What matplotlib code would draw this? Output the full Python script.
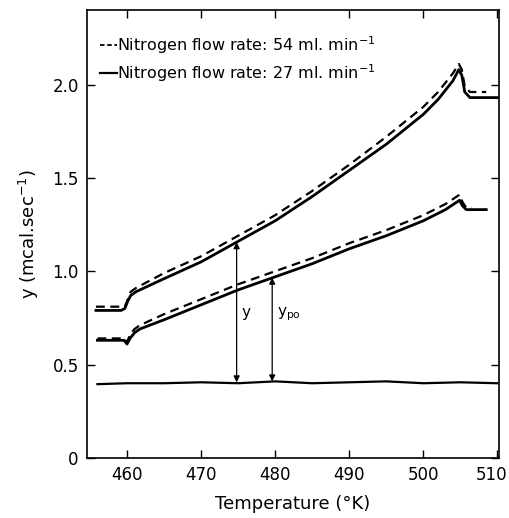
import matplotlib.pyplot as plt
import matplotlib.transforms as mtransforms

# upper pair of traces (sample + reference)
t_up = [455.8, 459.2, 459.7, 460.1, 460.5, 461.2, 465, 470, 475, 480, 485, 490, 495, 500, 502, 504.0, 504.8, 505.2, 505.6, 506.3, 510]
y_up_27 = [0.79, 0.79, 0.80, 0.84, 0.87, 0.89, 0.96, 1.05, 1.16, 1.27, 1.40, 1.54, 1.68, 1.84, 1.92, 2.02, 2.08, 2.05, 1.96, 1.93, 1.93]
t_up_54 = [455.8, 459.2, 459.7, 460.1, 460.5, 461.2, 465, 470, 475, 480, 485, 490, 495, 500, 502, 504.0, 504.8, 505.2, 505.6, 506.3, 508.5]
y_up_54 = [0.81, 0.81, 0.81, 0.85, 0.89, 0.91, 0.99, 1.08, 1.19, 1.30, 1.43, 1.57, 1.72, 1.88, 1.96, 2.06, 2.11, 2.08, 1.99, 1.96, 1.96]

# lower pair of traces
t_lo = [456.0, 459.0, 459.6, 460.0, 460.4, 461.0, 461.7, 465, 470, 475, 480, 485, 490, 495, 500, 503, 504.9, 505.3, 505.8, 506.5, 508.5]
y_lo_27 = [0.63, 0.63, 0.63, 0.61, 0.64, 0.67, 0.69, 0.74, 0.82, 0.90, 0.97, 1.04, 1.12, 1.19, 1.27, 1.33, 1.38, 1.35, 1.33, 1.33, 1.33]
y_lo_54 = [0.64, 0.64, 0.64, 0.62, 0.66, 0.69, 0.71, 0.77, 0.85, 0.93, 1.00, 1.07, 1.15, 1.22, 1.30, 1.36, 1.41, 1.37, 1.34, 1.34, 1.34]

# empty-pan baseline
t_base = [456.0, 460, 465, 470, 475, 480, 485, 490, 495, 500, 505, 510]
y_base = [0.395, 0.40, 0.40, 0.405, 0.40, 0.41, 0.40, 0.405, 0.41, 0.40, 0.405, 0.40]

xticks = [460, 470, 480, 490, 500, 510]
yticks = [0, 0.5, 1.0, 1.5, 2.0]
yticklabels = ['0', '0.5', '1.0', '1.5', '2.0']

fig = plt.figure(figsize=(5.09, 5.18), dpi=100)
ax = fig.add_axes([0.171, 0.116, 0.809, 0.865])

ax.plot(t_up, y_up_27, color='black', lw=2.0)
ax.plot(t_up_54, y_up_54, color='black', lw=1.6, ls=(0, (4, 2.5)))
ax.plot(t_lo, y_lo_27, color='black', lw=2.0)
ax.plot(t_lo[:-1], y_lo_54[:-1], color='black', lw=1.6, ls=(0, (4, 2.5)))
ax.plot(t_base, y_base, color='black', lw=1.6)

# double-headed arrows for y and y_po
ax.annotate('', xy=(474.8, 0.405), xytext=(474.8, 1.155),
            arrowprops=dict(arrowstyle='<|-|>', color='black', lw=0.9,
                            mutation_scale=9, shrinkA=0, shrinkB=0))
ax.annotate('', xy=(479.6, 0.41), xytext=(479.6, 0.965),
            arrowprops=dict(arrowstyle='<|-|>', color='black', lw=0.9,
                            mutation_scale=9, shrinkA=0, shrinkB=0))
ax.text(475.4, 0.78, 'y', fontsize=11, va='center')
ax.text(480.2, 0.77, r'y$_{\mathrm{po}}$', fontsize=11, va='center')

# legend drawn by hand
ax.plot([456.3, 458.6], [2.21, 2.21], color='black', lw=1.3, ls=(0, (2.5, 1.5)))
ax.plot([456.3, 458.6], [2.06, 2.06], color='black', lw=1.6)
ax.text(458.7, 2.21, r'Nitrogen flow rate: 54 ml. min$^{\mathregular{-1}}$', fontsize=11.5, va='center')
ax.text(458.7, 2.06, r'Nitrogen flow rate: 27 ml. min$^{\mathregular{-1}}$', fontsize=11.5, va='center')

ax.set_xlim(454.6, 510.2)
ax.set_ylim(0, 2.4)
ax.set_xticks(xticks)
ax.set_yticks(yticks)
ax.set_yticklabels(yticklabels)
ax.tick_params(direction='in', top=True, right=True, length=6, width=1, labelsize=12, pad=6)
for s in ax.spines.values():
    s.set_linewidth(1.2)

# pull the last x label inside the figure edge
last = ax.get_xticklabels()[-1]
last.set_transform(last.get_transform() + mtransforms.ScaledTranslation(-4 / 72, 0, fig.dpi_scale_trans))

ax.set_xlabel('Temperature (°K)', fontsize=13, labelpad=8)
ax.set_ylabel(r'y (mcal.sec$^{\mathregular{-1}}$)', fontsize=13, labelpad=8)

fig.savefig('out.png', dpi=100)
